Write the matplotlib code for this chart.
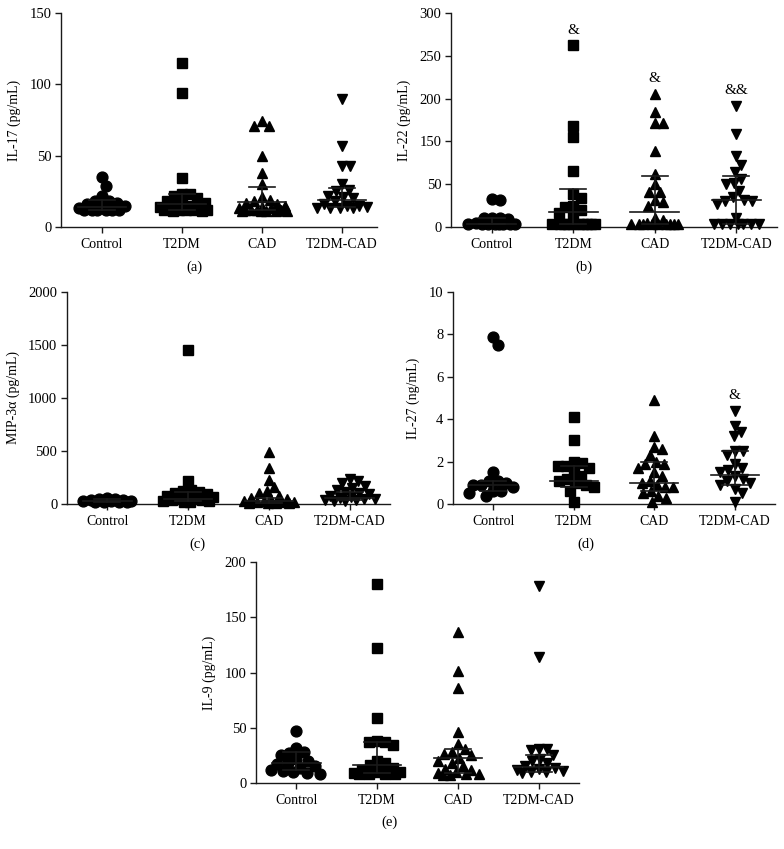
import matplotlib
matplotlib.use('Agg')
import matplotlib.pyplot as plt
import numpy as np

plt.rcParams['font.family'] = ['Liberation Serif', 'DejaVu Serif']

groups = ['Control', 'T2DM', 'CAD', 'T2DM-CAD']
markers = ['o', 's', '^', 'v']

# (a) IL-17 (pg/mL)
il17_control = [35, 29, 22, 18, 18, 17, 16, 15, 14, 13, 12, 12, 12, 12, 12, 12]
il17_t2dm = [115, 94, 34, 23, 23, 22, 20, 18, 17, 16, 15, 15, 14, 13, 13, 12, 12, 12, 12, 12, 11, 11]
il17_cad = [74, 71, 71, 50, 38, 30, 21, 19, 18, 17, 16, 15, 14, 13, 13, 12, 12, 12, 12, 11, 11, 11, 11, 11]
il17_t2dmcad = [90, 57, 43, 43, 30, 26, 25, 22, 21, 20, 18, 16, 15, 15, 14, 13, 13, 13, 13]
il17_median = [14, 16.4, 17.6, 19]
il17_q1 = [12, 12, 12, 14]
il17_q3 = [19, 23, 28, 27]

# (b) IL-22 (pg/mL), broken axis between 50 and 100
il22_control = [33, 31, 11, 10, 10, 9, 5, 4, 3, 3, 3, 3, 3, 3, 3]
il22_t2dm = [263, 168, 155, 116, 39, 34, 25, 23, 20, 16, 12, 3, 3, 3, 3, 3, 3, 3, 3, 3, 3]
il22_cad = [205, 184, 171, 171, 139, 112, 50, 41, 41, 31, 29, 25, 10, 8, 5, 4, 3, 3, 3, 3, 3, 3, 3, 3]
il22_t2dmcad = [191, 159, 133, 123, 114, 106, 101, 50, 42, 35, 32, 30, 30, 27, 10, 3, 3, 3, 3, 3, 3, 3]
il22_median = [3, 17, 18, 31]
il22_q1 = [3, 3, 3, 3]
il22_q3 = [10, 44, 110, 110]
il22_marks = ['', '&', '&', '&&']
il22_mark_y = [0, 279, 224, 209]

# (c) MIP-3alpha (pg/mL)
mip_control = [55, 50, 45, 40, 35, 30, 30, 25, 20, 20, 15, 15]
mip_t2dm = [1450, 220, 130, 120, 110, 100, 90, 80, 70, 60, 50, 50, 40, 40, 30, 30, 20, 20]
mip_cad = [490, 340, 230, 160, 120, 100, 80, 60, 50, 40, 30, 30, 20, 20, 15, 10, 10, 10, 10]
mip_t2dmcad = [240, 220, 200, 170, 150, 130, 110, 100, 90, 80, 70, 60, 50, 50, 40, 40, 30, 30]
mip_median = [30, 50, 30, 60]
mip_q1 = [20, 30, 10, 35]
mip_q3 = [45, 110, 60, 110]

# (d) IL-27 (ng/mL)
il27_control = [7.9, 7.5, 1.5, 1.1, 1.1, 1.0, 0.9, 0.9, 0.8, 0.6, 0.6, 0.5, 0.4]
il27_t2dm = [4.1, 3.0, 2.0, 1.95, 1.8, 1.8, 1.7, 1.5, 1.3, 1.2, 1.1, 1.0, 0.9, 0.8, 0.6, 0.1]
il27_cad = [4.9, 3.2, 2.7, 2.6, 2.3, 2.0, 1.9, 1.9, 1.7, 1.5, 1.3, 1.1, 1.0, 0.9, 0.8, 0.8,
            0.6, 0.5, 0.4, 0.3, 0.1]
il27_t2dmcad = [4.4, 3.7, 3.4, 3.2, 2.5, 2.5, 2.3, 1.9, 1.7, 1.6, 1.5, 1.3, 1.2, 1.1, 1.0,
                0.9, 0.7, 0.5, 0.1]
il27_median = [0.9, 1.1, 1.0, 1.35]
il27_q1 = [0.6, 0.8, 0.6, 0.9]
il27_q3 = [1.1, 1.8, 2.0, 2.5]
il27_marks = ['', '', '', '&']
il27_mark_y = [0, 0, 0, 5.1]

# (e) IL-9 (pg/mL)
il9_control = [47, 32, 28, 27, 25, 22, 20, 18, 17, 15, 14, 12, 11, 10, 9, 8]
il9_t2dm = [180, 122, 59, 38, 37, 37, 34, 20, 18, 16, 14, 12, 10, 10, 9, 8, 8, 8, 8]
il9_cad = [137, 101, 86, 46, 35, 31, 28, 26, 25, 23, 20, 18, 15, 13, 12, 10, 9, 8, 8, 7, 7]
il9_t2dmcad = [178, 114, 31, 31, 30, 25, 22, 20, 18, 15, 14, 13, 12, 11, 10, 10, 9]
il9_median = [18.5, 16.4, 22.5, 14.2]
il9_q1 = [12, 9, 9, 10]
il9_q3 = [28, 37, 31, 25]

W, H = 784, 849
fig = plt.figure(figsize=(W / 100, H / 100), dpi=100)
ink = '#1a1a1a'


def px_axes(left, top, right, bottom):
    return fig.add_axes([left / W, 1 - bottom / H, (right - left) / W, (bottom - top) / H])


def swarm_offsets(ax, xc, vals, rx=8.0, ry=10.0, max_off=25.0):
    # beeswarm in pixel space; points that do not fit within max_off
    # go to the least crowded spot inside the band
    pts = ax.transData.transform(np.column_stack([np.full(len(vals), xc), vals]))
    ypx = pts[:, 1]
    order = np.argsort(-np.asarray(vals))
    placed = []
    offs = np.zeros(len(vals))
    cands = [0.0]
    k = 1
    while k * 0.5 <= max_off:
        cands += [k * 0.5, -k * 0.5]
        k += 1
    for i in order:
        best, best_d = 0.0, -1
        for c in cands:
            d = min([((c - px) / rx) ** 2 + ((ypx[i] - py) / ry) ** 2 for (px, py) in placed],
                    default=9.0)
            if d >= 1:
                best = c
                break
            if d > best_d + 1e-9:
                best, best_d = c, d
        offs[i] = best
        placed.append((best, ypx[i]))
    x0 = ax.transData.transform((0, 0))[0]
    x1 = ax.transData.transform((1, 0))[0]
    return offs / (x1 - x0)


def panel(ax, data, med, q1, q3, ylim, yticks, ylabel, xlim=(-0.5, 3.5),
          ticklabels=None, marks=None, mark_y=None):
    ax.set_xlim(*xlim)
    ax.set_ylim(*ylim)
    for i, vals in enumerate(data):
        dx = swarm_offsets(ax, i, vals)
        ax.plot(i + dx, vals, linestyle='none', marker=markers[i],
                ms=7.8 if markers[i] != 's' else 7.0, color='black', mec='black',
                zorder=3, clip_on=False)
        ax.plot([i - 0.3, i + 0.3], [med[i], med[i]], color=ink, lw=1.2, zorder=4)
        ax.plot([i, i], [q1[i], q3[i]], color=ink, lw=1.2, zorder=4)
        ax.plot([i - 0.16, i + 0.16], [q3[i], q3[i]], color=ink, lw=1.2, zorder=4)
        ax.plot([i - 0.16, i + 0.16], [q1[i], q1[i]], color=ink, lw=1.2, zorder=4)
        if marks and marks[i]:
            ax.text(i, mark_y[i], marks[i], ha='center', va='center', fontsize=11)
    ax.set_xticks(range(4))
    ax.set_xticklabels(groups, fontsize=10)
    ax.set_yticks(yticks)
    if ticklabels is not None:
        ax.set_yticklabels(ticklabels)
    ax.tick_params(axis='y', labelsize=10.5, length=4, width=1, color=ink, pad=3)
    ax.tick_params(axis='x', length=4, width=1, color=ink, pad=4)
    for s in ['top', 'right']:
        ax.spines[s].set_visible(False)
    for s in ['left', 'bottom']:
        ax.spines[s].set_color(ink)
        ax.spines[s].set_linewidth(1.0)
    ax.set_ylabel(ylabel, fontsize=10, labelpad=6)


def brk_fwd(v):
    v = np.asarray(v, dtype=float)
    return np.where(v <= 50, v, np.where(v >= 100, v - 50, 50.0))


def brk_inv(d):
    d = np.asarray(d, dtype=float)
    return np.where(d <= 50, d, d + 50)


ax_a = px_axes(61, 13, 377, 227)
panel(ax_a, [il17_control, il17_t2dm, il17_cad, il17_t2dmcad], il17_median, il17_q1, il17_q3,
      (0, 150), [0, 50, 100, 150], 'IL-17 (pg/mL)', xlim=(-0.51, 3.44))

ax_b = px_axes(451, 13, 777, 227)
ax_b.set_yscale('function', functions=(brk_fwd, brk_inv))
panel(ax_b, [il22_control, il22_t2dm, il22_cad, il22_t2dmcad], il22_median, il22_q1, il22_q3,
      (0, 300), [0, 50, 150, 200, 250, 300], 'IL-22 (pg/mL)',
      ticklabels=['0', '50', '150', '200', '250', '300'], marks=il22_marks, mark_y=il22_mark_y)

ax_c = px_axes(67, 292, 390, 504)
panel(ax_c, [mip_control, mip_t2dm, mip_cad, mip_t2dmcad], mip_median, mip_q1, mip_q3,
      (0, 2000), [0, 500, 1000, 1500, 2000], 'MIP-3α (pg/mL)')

ax_d = px_axes(453, 292, 775, 504)
panel(ax_d, [il27_control, il27_t2dm, il27_cad, il27_t2dmcad], il27_median, il27_q1, il27_q3,
      (0, 10), [0, 2, 4, 6, 8, 10], 'IL-27 (ng/mL)', marks=il27_marks, mark_y=il27_mark_y)

ax_e = px_axes(256, 562, 579, 783)
panel(ax_e, [il9_control, il9_t2dm, il9_cad, il9_t2dmcad], il9_median, il9_q1, il9_q3,
      (0, 200), [0, 50, 100, 150, 200], 'IL-9 (pg/mL)')

for lab, x, y in [('(a)', 194, 267), ('(b)', 584, 267), ('(c)', 197, 544),
                  ('(d)', 586, 544), ('(e)', 390, 822)]:
    fig.text(x / W, 1 - y / H, lab, ha='center', va='center', fontsize=10.5)

fig.savefig('out.png', dpi=100)
